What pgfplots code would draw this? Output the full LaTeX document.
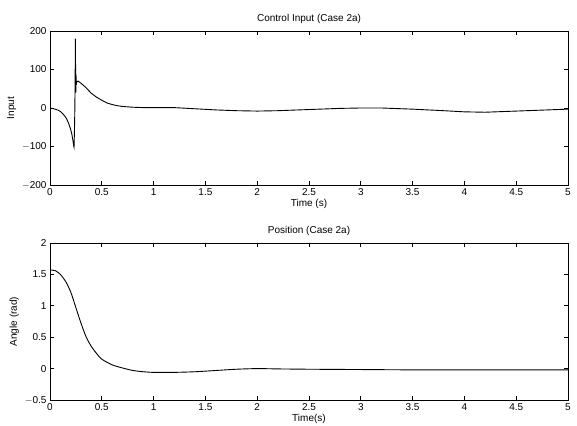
\documentclass[border=0pt]{standalone}
\usepackage{pgfplots}
\pgfplotsset{compat=1.18}
\usepackage{fontspec}
\setmainfont{Liberation Sans}
\pgfplotsset{
  every axis/.append style={
    scale only axis,
    font=\fontsize{10}{11}\selectfont,
    /pgf/number format/assume math mode=true,
    tick align=inside,
    major tick length=4pt,
    xmin=0, xmax=5,
    xtick={0,0.5,1,1.5,2,2.5,3,3.5,4,4.5,5},
    xticklabels={0,0.5,1,1.5,2,2.5,3,3.5,4,4.5,5},
    axis line style={line width=0.8pt},
    every tick/.style={black, line width=0.7pt},
    title style={yshift=-2pt},
    xlabel style={yshift=3pt},
    ylabel style={yshift=-1pt},
  }
}
\begin{document}
\begin{tikzpicture}
\useasboundingbox (0pt,0pt) rectangle (577pt,425pt);
\begin{axis}[
  at={(50pt,240pt)}, anchor=south west,
  width=518pt, height=154pt,
  ymin=-200, ymax=200,
  ytick={-200,-100,0,100,200},
  yticklabels={$-$200,$-$100,0,100,200},
  title={Control Input (Case 2a)},
  xlabel={Time (s)},
  ylabel={Input},
]
\addplot[black, line width=0.9pt] coordinates {
(0,0) (0.02,-1) (0.05,-3) (0.08,-6) (0.10,-9) (0.12,-14) (0.14,-20) (0.16,-28)
(0.18,-40) (0.20,-56) (0.21,-67) (0.22,-82) (0.23,-100) (0.232,-102)
(0.236,-60) (0.240,0) (0.243,90) (0.245,180) (0.247,100) (0.249,40)
(0.251,88) (0.253,60) (0.256,65) (0.26,68) (0.27,70) (0.28,68) (0.30,64)
(0.33,57) (0.36,49) (0.40,38) (0.45,28) (0.50,20) (0.55,13) (0.60,9)
(0.65,6) (0.70,4) (0.80,2) (0.90,1) (1.0,1) (1.2,1) (1.4,-2) (1.6,-5)
(1.8,-7) (2.0,-8) (2.2,-7) (2.5,-4) (2.8,-1) (3.0,0) (3.2,0) (3.5,-3)
(3.8,-7) (4.0,-10) (4.2,-11) (4.4,-9) (4.6,-7) (4.8,-5) (5.0,-3)
};
\end{axis}
\begin{axis}[
  at={(50pt,25pt)}, anchor=south west,
  width=518pt, height=157pt,
  ymin=-0.5, ymax=2,
  ytick={-0.5,0,0.5,1,1.5,2},
  yticklabels={$-$0.5,0,0.5,1,1.5,2},
  title={Position (Case 2a)},
  xlabel={Time(s)},
  ylabel={Angle (rad)},
]
\addplot[black, line width=0.9pt, smooth] coordinates {
(0,1.57) (0.05,1.56) (0.10,1.50) (0.15,1.39) (0.20,1.22) (0.25,0.97)
(0.30,0.72) (0.35,0.50) (0.40,0.35) (0.45,0.24) (0.50,0.15) (0.60,0.06)
(0.70,0.01) (0.80,-0.03) (0.90,-0.05) (1.0,-0.06) (1.2,-0.06) (1.4,-0.05)
(1.6,-0.03) (1.8,-0.01) (2.0,0) (2.2,-0.005) (2.5,-0.01) (3,-0.015)
(3.5,-0.02) (4,-0.02) (4.5,-0.02) (5,-0.02)
};
\end{axis}
\end{tikzpicture}
\end{document}
